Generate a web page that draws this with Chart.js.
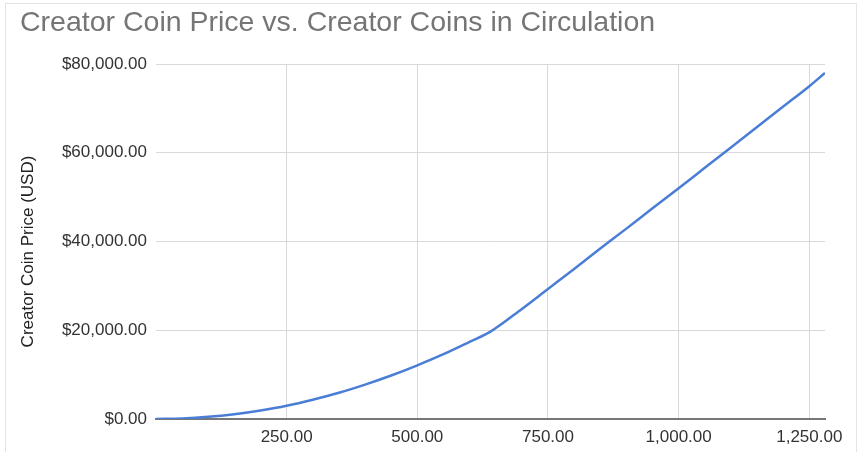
<!DOCTYPE html>
<html>
<head>
<meta charset="utf-8">
<script src="https://cdn.jsdelivr.net/npm/chart.js@4.4.1/dist/chart.umd.min.js"></script>
<style>
    html, body { margin: 0; padding: 0; background: #fff; }
    #wrap { position: relative; width: 866px; height: 452px; overflow: hidden; }
    #frame {
        position: absolute; left: 5px; top: 3px; width: 850px; height: 470px;
        border: 1px solid #e4e4e4;
    }
    #priceChart { position: absolute; left: 0; top: 0; }
</style>
</head>
<body>
<div id="wrap">
    <div id="frame"></div>
    <canvas id="priceChart" width="866" height="452"></canvas>
</div>
<script>
// Datos
const coins = [0, 50, 100, 150, 200, 250, 300, 350, 400, 450, 500, 550, 600, 640,
    700, 750, 800, 850, 900, 950, 1000, 1050, 1100, 1150, 1200, 1250, 1280];
const prices = [0, 120, 480, 1090, 1940, 3000, 4350, 5900, 7750, 9800, 12100, 14600, 17400, 19700,
    24800, 29300, 33800, 38400, 42900, 47500, 52000, 56600, 61200, 65800, 70400, 75000, 78000];
const xTicks = [250, 500, 750, 1000, 1250];
const yTicks = [0, 20000, 40000, 60000, 80000];
const yTitle = 'Creator Coin Price (USD)';

const fmt2 = v => v.toLocaleString('en-US', { minimumFractionDigits: 2, maximumFractionDigits: 2 });
const font = 'Liberation Sans, Arial, sans-serif';

// Título del eje Y, un poco por debajo del centro como en el original
const yTitlePlugin = {
    id: 'yTitle',
    afterDraw(chart) {
        const c = chart.ctx;
        const area = chart.chartArea;
        c.save();
        c.translate(28, (area.top + area.bottom) / 2 + 10);
        c.rotate(-Math.PI / 2);
        c.font = '17px ' + font;
        c.fillStyle = '#222';
        c.textAlign = 'center';
        c.textBaseline = 'middle';
        c.fillText(yTitle, 0, 0);
        c.restore();
    }
};

const ctx = document.getElementById('priceChart').getContext('2d');
new Chart(ctx, {
    type: 'line',
    data: {
        datasets: [{
            data: coins.map((c, i) => ({ x: c, y: prices[i] })),
            borderColor: '#4a7ed6',
            borderWidth: 2.5,
            pointRadius: 0,
            cubicInterpolationMode: 'monotone',
            fill: false
        }]
    },
    options: {
        responsive: false,
        animation: false,
        layout: { padding: { top: 0, left: 20, right: 41, bottom: 0 } },
        plugins: {
            legend: { display: false },
            tooltip: { enabled: false },
            title: {
                display: true,
                text: 'Creator Coin Price vs. Creator Coins in Circulation',
                align: 'start',
                color: '#757575',
                font: { family: font, size: 28.5, weight: 'normal' },
                padding: { top: 6, bottom: 23.8 }
            }
        },
        scales: {
            x: {
                type: 'linear',
                min: 0,
                max: 1280,
                afterFit: s => { s.height = 33; },
                afterBuildTicks: s => { s.ticks = xTicks.map(v => ({ value: v })); },
                grid: { color: '#d9d9d9', lineWidth: 1, drawTicks: false },
                border: { display: true, color: '#777', width: 2 },
                ticks: {
                    padding: 8,
                    maxRotation: 0,
                    color: '#333',
                    font: { family: font, size: 17 },
                    callback: v => fmt2(v)
                }
            },
            y: {
                min: 0,
                max: 80000,
                afterFit: s => { s.width = 136; },
                afterBuildTicks: s => { s.ticks = yTicks.map(v => ({ value: v })); },
                grid: { color: '#d9d9d9', lineWidth: 1, drawTicks: false },
                border: { display: false },
                ticks: {
                    padding: 9,
                    color: '#333',
                    font: { family: font, size: 17 },
                    callback: v => '$' + fmt2(v)
                }
            }
        }
    },
    plugins: [yTitlePlugin]
});
</script>
</body>
</html>
